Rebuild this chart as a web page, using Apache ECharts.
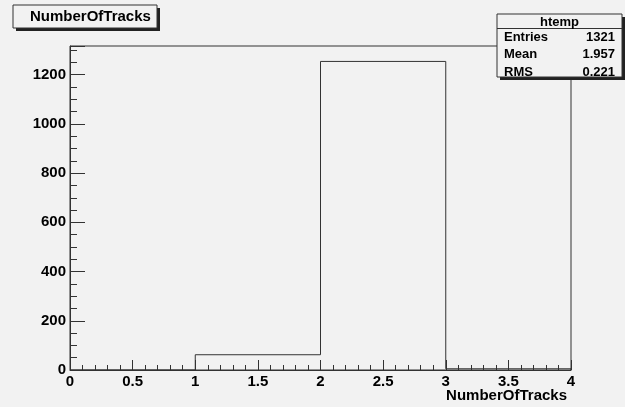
<!DOCTYPE html>
<html><head><meta charset="utf-8">
<script src="https://cdn.jsdelivr.net/npm/echarts@6/dist/echarts.min.js"></script>
<style>html,body{margin:0;padding:0;background:#f2f2f2}#c{width:625px;height:407px}</style>
</head><body><div id="c"></div>
<script>
// Histogram data (bin edges and counts)
var binEdges = [0, 1, 2, 3, 4];
var binCounts = [0, 62, 1254, 5];
var xTickLabels = ['0', '0.5', '1', '1.5', '2', '2.5', '3', '3.5', '4'];
var yTickLabels = ['0', '200', '400', '600', '800', '1000', '1200'];
var statsNames = ['Entries', 'Mean', 'RMS'];
var statsValues = ['1321', '1.957', '0.221'];
var histName = 'htemp';
var titleText = 'NumberOfTracks';
var xAxisTitle = 'NumberOfTracks';

var pts = [];
for (var i = 0; i < binCounts.length; i++) {
  pts.push([binEdges[i], binCounts[i]]);
  pts.push([binEdges[i + 1], binCounts[i]]);
}
pts.push([binEdges[binEdges.length - 1], 0]);
var yMax = Math.max.apply(null, binCounts) * 1.05;

var font = '"Liberation Sans", Arial, sans-serif';
var chart = echarts.init(document.getElementById('c'));

var graphics = [
  // title box shadow + box
  {type: 'rect', shape: {x: 16, y: 8, width: 144, height: 23}, style: {fill: '#222'}, z: 10},
  {type: 'rect', shape: {x: 13, y: 5, width: 144, height: 23}, style: {fill: '#f2f2f2', stroke: '#333', lineWidth: 1}, z: 11},
  {type: 'text', x: 30, y: 16.5, style: {text: titleText, font: 'bold 15px ' + font, fill: '#000', textVerticalAlign: 'middle'}, z: 12},
  // stats box
  {type: 'rect', shape: {x: 500, y: 17, width: 125, height: 63}, style: {fill: '#222'}, z: 10},
  {type: 'rect', shape: {x: 497, y: 14, width: 125, height: 63}, style: {fill: '#f2f2f2', stroke: '#333', lineWidth: 1}, z: 11},
  {type: 'line', shape: {x1: 497, y1: 28.5, x2: 622, y2: 28.5}, style: {stroke: '#333', lineWidth: 1}, z: 12},
  {type: 'text', x: 559.5, y: 22, style: {text: histName, font: 'bold 13px ' + font, fill: '#000', textAlign: 'center', textVerticalAlign: 'middle'}, z: 12},
  // x axis title
  {type: 'text', x: 567, y: 396, style: {text: xAxisTitle, font: 'bold 15px ' + font, fill: '#000', textAlign: 'right', textVerticalAlign: 'middle'}, z: 12}
];
for (var k = 0; k < statsNames.length; k++) {
  graphics.push({type: 'text', x: 504, y: 37 + k * 17.5, style: {text: statsNames[k], font: 'bold 13px ' + font, fill: '#000', textVerticalAlign: 'middle'}, z: 12});
  graphics.push({type: 'text', x: 615, y: 37 + k * 17.5, style: {text: statsValues[k], font: 'bold 13px ' + font, fill: '#000', textAlign: 'right', textVerticalAlign: 'middle'}, z: 12});
}

chart.setOption({
  backgroundColor: '#f2f2f2',
  animation: false,
  grid: {left: 70, right: 54, top: 46, bottom: 37, show: true, borderColor: '#333', borderWidth: 1, backgroundColor: 'transparent'},
  xAxis: {
    type: 'value', min: 0, max: 4, interval: 0.5,
    axisLine: {show: true, onZero: false, lineStyle: {color: '#333'}},
    axisTick: {show: true, inside: true, length: 10, lineStyle: {color: '#333'}},
    minorTick: {show: true, splitNumber: 5, length: 5, lineStyle: {color: '#333'}},
    splitLine: {show: false},
    axisLabel: {color: '#000', fontFamily: font, fontWeight: 'bold', fontSize: 15, margin: 4,
      formatter: function (v) { var idx = Math.round(v / 0.5); return xTickLabels[idx] !== undefined ? xTickLabels[idx] : ''; }}
  },
  yAxis: {
    type: 'value', min: 0, max: yMax, interval: 200,
    axisLine: {show: true, lineStyle: {color: '#333'}},
    axisTick: {show: true, inside: true, length: 15, lineStyle: {color: '#333'}},
    minorTick: {show: true, splitNumber: 4, length: 7, lineStyle: {color: '#333'}},
    splitLine: {show: false},
    axisLabel: {color: '#000', fontFamily: font, fontWeight: 'bold', fontSize: 15, margin: 4, showMaxLabel: false,
      formatter: function (v) { var idx = Math.round(v / 200); return (Math.abs(v - idx * 200) < 1e-6 && yTickLabels[idx] !== undefined) ? yTickLabels[idx] : ''; }}
  },
  series: [{
    type: 'line', data: pts, symbol: 'none', silent: true,
    lineStyle: {color: '#333', width: 1}, z: 5
  }],
  graphic: graphics
});
</script></body></html>
